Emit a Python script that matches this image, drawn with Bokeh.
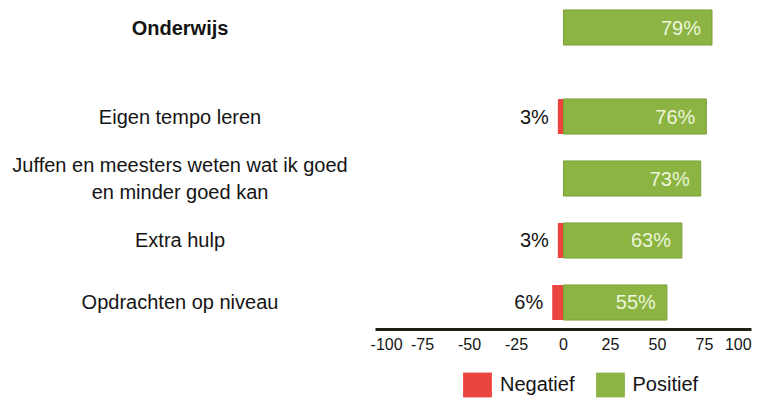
from bokeh.plotting import figure
from bokeh.layouts import column
from bokeh.models import FactorRange, Range1d, FixedTicker, Legend, LegendItem
from bokeh.core.properties import value
from bokeh.embed import file_html
from bokeh.resources import INLINE

# ---- data ----
header = "Onderwijs"
categories = [
    "Eigen tempo leren",
    "Juffen en meesters weten wat ik goed\nen minder goed kan",
    "Extra hulp",
    "Opdrachten op niveau",
]
negative = [0, 3, 0, 3, 6]        # header row first
positive = [79, 76, 73, 63, 55]
ticks = [-100, -75, -50, -25, 0, 25, 50, 75, 100]
legend_labels = ["Negatief", "Positief"]

# ---- styling ----
FONT = "Liberation Sans"
RED = "#ec443f"
GREEN = "#8bb443"
GREEN_EDGE = "#7ca03a"
TXT = "#141414"
LABEL_X = -204
NBSP = "\u00a0"

rows = [("kop", header)] + [("items", c) for c in categories]

y_range = FactorRange(factors=list(reversed(rows)), factor_padding=0.148,
                      group_padding=0.648, range_padding=0)

p = figure(frame_width=760, frame_height=329, x_range=Range1d(-299.5, 104.8), y_range=y_range,
           output_backend="svg", toolbar_location=None, y_axis_location=None,
           min_border_left=0, min_border_right=0, min_border_top=0, min_border_bottom=0)
p.outline_line_color = None
p.grid.visible = False
p.background_fill_color = "white"
p.border_fill_color = "white"

neg_left = [-v for v in negative]
zeros = [0] * len(rows)
r_neg = p.hbar(y=rows, left=neg_left, right=zeros, height=0.65,
               fill_color=RED, line_color=None)
r_pos = p.hbar(y=rows, left=zeros, right=positive, height=0.65,
               fill_color=GREEN, line_color=GREEN_EDGE, line_width=1)

# category labels
p.text(x=[LABEL_X], y=[rows[0]], text=[header], text_align="center",
       text_baseline="middle", text_font=value(FONT), text_font_size="20px",
       text_font_style="bold", text_color=TXT)
p.text(x=[LABEL_X] * len(categories), y=rows[1:], text=categories,
       text_align="center", text_baseline="middle", text_font=value(FONT),
       text_font_size="20px", text_color=TXT, text_line_height=1.25)

# value labels
p.text(x=positive, y=rows, text=[f"{v}%" for v in positive], x_offset=-11,
       text_align="right", text_baseline="middle", text_font=value(FONT),
       text_font_size="20px", text_color="#eef5dc")
nl = [(r, v) for r, v in zip(rows, negative) if v > 0]
p.text(x=[-v for _, v in nl], y=[r for r, _ in nl], text=[f"{v}%" for _, v in nl],
       x_offset=-9, text_align="right", text_baseline="middle",
       text_font=value(FONT), text_font_size="20px", text_color=TXT)

# x axis
ax = p.xaxis[0]
ax.ticker = FixedTicker(ticks=ticks)
ax.bounds = (ticks[0], ticks[-1])
ax.major_tick_line_color = None
ax.minor_tick_line_color = None
ax.axis_line_width = 3
ax.axis_line_color = "#1c2216"
ax.major_label_text_font = FONT
ax.major_label_text_font_size = "16px"
ax.major_label_text_color = TXT
ax.major_label_standoff = 0
overrides = {t: str(t) for t in ticks}
overrides[ticks[0]] = NBSP * 5 + str(ticks[0])   # end labels pulled inward
overrides[ticks[-1]] = str(ticks[-1]) + NBSP * 2
ax.major_label_overrides = overrides

# legend in its own strip
lf = figure(width=760, height=45, x_range=Range1d(0, 1), y_range=Range1d(0, 1),
            output_backend="svg", toolbar_location=None,
            x_axis_location=None, y_axis_location=None,
            min_border_left=0, min_border_right=0, min_border_top=0, min_border_bottom=0)
lf.outline_line_color = None
lf.grid.visible = False
nan = float("nan")
lr_neg = lf.hbar(y=[nan], left=[nan], right=[nan], height=1, fill_color=RED, line_color=None)
lr_pos = lf.hbar(y=[nan], left=[nan], right=[nan], height=1, fill_color=GREEN, line_color=None)
legend = Legend(items=[LegendItem(label=legend_labels[0], renderers=[lr_neg]),
                       LegendItem(label=legend_labels[1], renderers=[lr_pos])],
                orientation="horizontal", location=(459, 0),
                glyph_width=36, glyph_height=31, label_standoff=5, spacing=17,
                padding=0, margin=0, border_line_color=None, background_fill_alpha=0,
                label_text_font=FONT, label_text_font_size="20px",
                label_text_color=TXT)
lf.add_layout(legend)

open("out.html", "w").write(file_html(column(p, lf, spacing=0), INLINE))
